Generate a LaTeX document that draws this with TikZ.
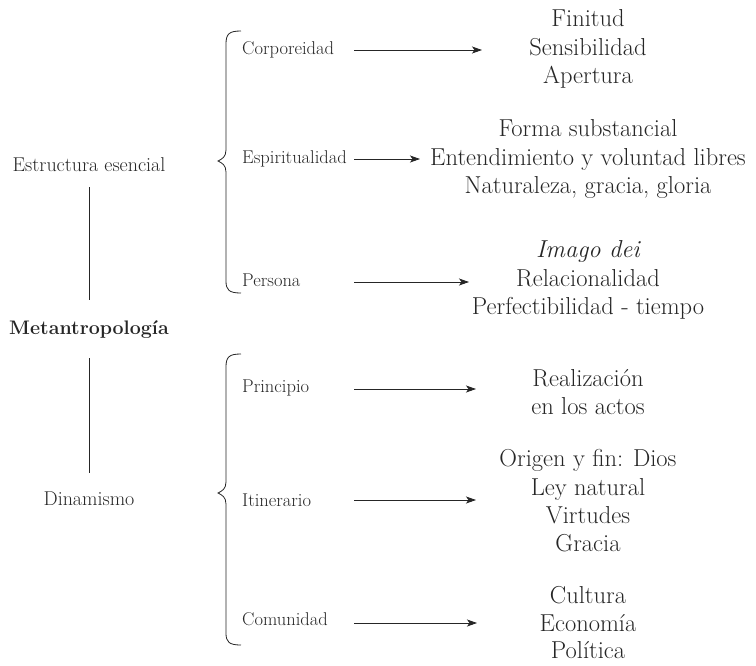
\documentclass[tikz,border=0pt]{standalone}
\usepackage{fontspec}
\usetikzlibrary{arrows.meta}
\begin{document}
\begin{tikzpicture}[x=1pt,y=-1pt,
  every node/.style={inner sep=0pt, text=black!85},
  leftlab/.style={font=\fontsize{20}{24}\selectfont},
  toplab/.style={font=\fontsize{19.6}{24}\selectfont\bfseries},
  midlab/.style={font=\fontsize{18.5}{22}\selectfont, anchor=base west},
  rightblk/.style={font=\fontsize{24.5}{28.3}\selectfont, align=center, anchor=center},
  arr/.style={line width=0.8pt, draw=black!85, -{Stealth[length=10pt,width=7pt,inset=2.5pt]}},
  link/.style={line width=0.8pt, draw=black!85},
  bracestyle/.style={line width=0.8pt, draw=black!85}]
\useasboundingbox (0,0) rectangle (756,665);

% left column
\node[leftlab] (est) at (89,165) {Estructura esencial};
\node[toplab] (meta) at (89,330) {Metantropología};
\node[leftlab] (din) at (89,499) {Dinamismo};
\draw[link, shorten <=22pt, shorten >=30pt] (est.center) -- (meta.center);
\draw[link, shorten <=28pt, shorten >=26pt] (meta.center) -- (din.center);

% braces
\draw[bracestyle] (241,31) .. controls (229,31) and (226,34) .. (226,44) -- (226,150)
  .. controls (226,157) and (222,159) .. (218,161)
  .. controls (222,163) and (226,165) .. (226,172) -- (226,281)
  .. controls (226,290) and (229,293) .. (241,293);
\draw[bracestyle] (241,354) .. controls (229,354) and (226,357) .. (226,367) -- (226,482)
  .. controls (226,489) and (222,491) .. (218,493)
  .. controls (222,495) and (226,497) .. (226,504) -- (226,633)
  .. controls (226,642) and (229,645) .. (241,645);

% middle labels
\node[midlab] (corp) at (242,54) {Corporeidad};
\node[midlab] (espi) at (242,163) {Espiritualidad};
\node[midlab] (pers) at (242,286) {Persona};
\node[midlab] (prin) at (242,392) {Principio};
\node[midlab] (itin) at (242,506) {Itinerario};
\node[midlab] (comu) at (242,625) {Comunidad};

% right blocks
\node[rightblk] (b1) at (588,49) {Finitud\\Sensibilidad\\Apertura};
\node[rightblk] (b2) at (588,159) {Forma substancial\\Entendimiento y voluntad libres\\Naturaleza, gracia, gloria};
\node[rightblk] (b3) at (588,280) {\itshape Imago dei\\Relacionalidad\\Perfectibilidad - tiempo};
\node[rightblk] (b4) at (588,392) {Realización\\en los actos};
\node[rightblk] (b5) at (588,501) {Origen y fin: Dios\\Ley natural\\Virtudes\\Gracia};
\node[rightblk, font=\fontsize{24.5}{27.5}\selectfont] (b6) at (588,623) {Cultura\\Economía\\Política};

% arrow end points
\coordinate (s1) at (354,50);  \coordinate (e1) at (482,50);
\coordinate (s2) at (354,159); \coordinate (e2) at (420,159);
\coordinate (s3) at (354,282); \coordinate (e3) at (469,282);
\coordinate (s4) at (354,389); \coordinate (e4) at (476,389);
\coordinate (s5) at (354,500); \coordinate (e5) at (476,500);
\coordinate (s6) at (354,623); \coordinate (e6) at (477,623);
\draw[arr] (s1) -- (e1);
\draw[arr] (s2) -- (e2);
\draw[arr] (s3) -- (e3);
\draw[arr] (s4) -- (e4);
\draw[arr] (s5) -- (e5);
\draw[arr] (s6) -- (e6);
\end{tikzpicture}
\end{document}
